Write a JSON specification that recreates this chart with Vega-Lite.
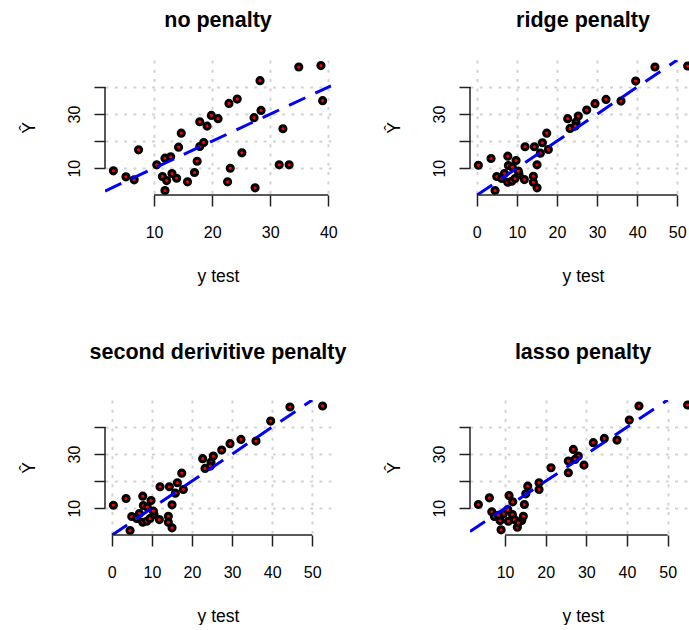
{
  "$schema": "https://vega.github.io/schema/vega-lite/v6.json",
  "padding": {"left": 20, "top": 10, "right": 0, "bottom": 0},
  "columns": 2,
  "spacing": {"row": 205, "column": 139},
  "bounds": "flush",
  "datasets": {
    "none": [
      {"x": 2.99, "y": 9.04}, {"x": 5.16, "y": 6.81}, {"x": 6.58, "y": 5.70}, {"x": 7.33, "y": 16.81},
      {"x": 10.46, "y": 11.26}, {"x": 11.88, "y": 13.70}, {"x": 12.86, "y": 14.22}, {"x": 11.44, "y": 6.93},
      {"x": 12.17, "y": 5.44}, {"x": 13.08, "y": 8.04}, {"x": 13.88, "y": 6.30}, {"x": 11.88, "y": 1.74},
      {"x": 14.22, "y": 17.78}, {"x": 14.68, "y": 22.96}, {"x": 15.76, "y": 4.96}, {"x": 16.96, "y": 8.41},
      {"x": 17.42, "y": 12.59}, {"x": 17.87, "y": 18.04}, {"x": 18.55, "y": 19.52}, {"x": 17.87, "y": 27.19},
      {"x": 19.13, "y": 25.56}, {"x": 19.87, "y": 29.52}, {"x": 21.02, "y": 28.30}, {"x": 22.90, "y": 33.96},
      {"x": 24.32, "y": 35.56}, {"x": 22.66, "y": 4.96}, {"x": 23.12, "y": 10.0}, {"x": 25.12, "y": 15.70},
      {"x": 27.40, "y": 2.74}, {"x": 27.22, "y": 28.67}, {"x": 28.42, "y": 31.37}, {"x": 28.25, "y": 42.37},
      {"x": 32.19, "y": 24.59}, {"x": 31.55, "y": 11.26}, {"x": 33.26, "y": 11.26}, {"x": 34.92, "y": 47.41},
      {"x": 38.74, "y": 47.93}, {"x": 39.03, "y": 34.96}
    ],
    "ridge": [
      {"x": 0.40, "y": 11.11}, {"x": 3.56, "y": 13.59}, {"x": 7.73, "y": 14.44}, {"x": 9.80, "y": 12.85},
      {"x": 7.88, "y": 11.0}, {"x": 8.88, "y": 10.37}, {"x": 4.98, "y": 6.93}, {"x": 6.89, "y": 8.04},
      {"x": 7.73, "y": 4.81}, {"x": 8.72, "y": 5.19}, {"x": 9.55, "y": 6.19}, {"x": 10.54, "y": 7.67},
      {"x": 11.87, "y": 5.81}, {"x": 14.11, "y": 7.04}, {"x": 14.11, "y": 4.81}, {"x": 15.03, "y": 2.74},
      {"x": 15.03, "y": 11.26}, {"x": 4.56, "y": 1.74}, {"x": 12.04, "y": 17.93}, {"x": 14.36, "y": 17.93},
      {"x": 16.36, "y": 19.41}, {"x": 15.86, "y": 15.56}, {"x": 17.85, "y": 16.93}, {"x": 17.45, "y": 22.96},
      {"x": 22.68, "y": 28.30}, {"x": 23.26, "y": 24.70}, {"x": 24.75, "y": 27.04}, {"x": 25.33, "y": 29.26},
      {"x": 24.58, "y": 25.56}, {"x": 27.42, "y": 31.48}, {"x": 29.49, "y": 33.85}, {"x": 32.23, "y": 35.44},
      {"x": 35.97, "y": 34.81}, {"x": 39.63, "y": 42.22}, {"x": 44.44, "y": 47.41}, {"x": 52.59, "y": 47.78},
      {"x": 6.23, "y": 6.19}, {"x": 10.38, "y": 8.9}
    ],
    "lasso": [
      {"x": 3.43, "y": 11.37}, {"x": 6.14, "y": 13.85}, {"x": 10.98, "y": 14.7}, {"x": 11.89, "y": 12.37},
      {"x": 14.75, "y": 11.37}, {"x": 6.73, "y": 8.67}, {"x": 7.37, "y": 6.93}, {"x": 8.77, "y": 5.44},
      {"x": 9.59, "y": 7.93}, {"x": 10.66, "y": 9.52}, {"x": 10.81, "y": 5.19}, {"x": 11.8, "y": 7.67},
      {"x": 12.29, "y": 5.81}, {"x": 14.1, "y": 5.44}, {"x": 14.5, "y": 7.04}, {"x": 9.02, "y": 2.0},
      {"x": 13.02, "y": 2.96}, {"x": 15.58, "y": 18.15}, {"x": 18.36, "y": 19.41}, {"x": 18.36, "y": 16.93},
      {"x": 15.1, "y": 15.33}, {"x": 21.31, "y": 24.96}, {"x": 25.57, "y": 23.1}, {"x": 25.57, "y": 27.41},
      {"x": 26.8, "y": 31.74}, {"x": 28.02, "y": 29.26}, {"x": 29.42, "y": 25.93}, {"x": 27.21, "y": 28.04},
      {"x": 31.71, "y": 34.22}, {"x": 34.42, "y": 35.81}, {"x": 37.54, "y": 35.19}, {"x": 40.57, "y": 42.59},
      {"x": 42.95, "y": 47.78}, {"x": 54.92, "y": 48.15}, {"x": 8.35, "y": 7.41}, {"x": 13.27, "y": 4.59}
    ]
  },
  "concat": [
    {
      "width": 226, "height": 135,
      "title": {"text": "no penalty", "offset": 28.5},
      "layer": [
        {"data": {"name": "none"},
         "mark": {"type": "point", "filled": true, "shape": "circle", "size": 38, "fill": "#ff0000", "stroke": "#000000", "strokeWidth": 3, "opacity": 1, "fillOpacity": 1, "strokeOpacity": 1, "clip": true},
         "encoding": {
           "x": {"field": "x", "type": "quantitative", "scale": {"domain": [1.55, 40.47], "nice": false, "zero": false}, "axis": {"title": "y test", "values": [10, 20, 30, 40], "labelBaseline": "alphabetic", "titleBaseline": "alphabetic"}},
           "y": {"field": "y", "type": "quantitative", "scale": {"domain": [0.1, 50], "nice": false, "zero": false}, "axis": {"title": "Ŷ", "values": [10, 20, 30, 40], "labelExpr": "datum.value == 10 || datum.value == 30 ? datum.label : ''", "labelAngle": -90, "labelAlign": "center", "labelBaseline": "alphabetic", "titleAngle": -90, "titleBaseline": "alphabetic", "titleX": -71}}
         }},
        {"data": {"values": [{"v": 1.55}, {"v": 40.47}]},
         "mark": {"type": "line", "color": "#0000ff", "strokeWidth": 3, "strokeDash": [18, 11], "clip": true},
         "encoding": {"x": {"field": "v", "type": "quantitative", "title": "y test"}, "y": {"field": "v", "type": "quantitative", "title": "Ŷ"}}},
        {"data": {"values": [{}]},
         "mark": {"type": "rule", "color": "#222222", "strokeWidth": 1.5},
         "encoding": {"x": {"datum": 10, "type": "quantitative"}, "x2": {"datum": 40}, "y": {"datum": 0.1, "type": "quantitative"}}},
        {"data": {"values": [{}]},
         "mark": {"type": "rule", "color": "#222222", "strokeWidth": 1.5},
         "encoding": {"y": {"datum": 10, "type": "quantitative"}, "y2": {"datum": 40}, "x": {"datum": 1.55, "type": "quantitative"}}}
      ]
    },
    {
      "width": 219, "height": 135,
      "title": {"text": "ridge penalty", "offset": 28.5, "dx": 3.5},
      "layer": [
        {"data": {"name": "ridge"},
         "mark": {"type": "point", "filled": true, "shape": "circle", "size": 38, "fill": "#ff0000", "stroke": "#000000", "strokeWidth": 3, "opacity": 1, "fillOpacity": 1, "strokeOpacity": 1, "clip": true},
         "encoding": {
           "x": {"field": "x", "type": "quantitative", "scale": {"domain": [-1.69, 52.93], "nice": false, "zero": false}, "axis": {"title": "y test", "values": [0, 10, 20, 30, 40, 50], "titleX": 113, "labelBaseline": "alphabetic", "titleBaseline": "alphabetic"}},
           "y": {"field": "y", "type": "quantitative", "scale": {"domain": [0.1, 50], "nice": false, "zero": false}, "axis": {"title": "Ŷ", "values": [10, 20, 30, 40], "labelExpr": "datum.value == 10 || datum.value == 30 ? datum.label : ''", "labelAngle": -90, "labelAlign": "center", "labelBaseline": "alphabetic", "titleAngle": -90, "titleBaseline": "alphabetic", "titleX": -71}}
         }},
        {"data": {"values": [{"v": 0.1}, {"v": 50}]},
         "mark": {"type": "line", "color": "#0000ff", "strokeWidth": 3, "strokeDash": [18, 11], "clip": true},
         "encoding": {"x": {"field": "v", "type": "quantitative", "title": "y test"}, "y": {"field": "v", "type": "quantitative", "title": "Ŷ"}}},
        {"data": {"values": [{}]},
         "mark": {"type": "rule", "color": "#222222", "strokeWidth": 1.5},
         "encoding": {"x": {"datum": 0, "type": "quantitative"}, "x2": {"datum": 50}, "y": {"datum": 0.1, "type": "quantitative"}}},
        {"data": {"values": [{}]},
         "mark": {"type": "rule", "color": "#222222", "strokeWidth": 1.5},
         "encoding": {"y": {"datum": 10, "type": "quantitative"}, "y2": {"datum": 40}, "x": {"datum": -1.69, "type": "quantitative"}}}
      ]
    },
    {
      "width": 226, "height": 135,
      "title": {"text": "second derivitive penalty", "offset": 37},
      "layer": [
        {"data": {"name": "ridge"},
         "mark": {"type": "point", "filled": true, "shape": "circle", "size": 38, "fill": "#ff0000", "stroke": "#000000", "strokeWidth": 3, "opacity": 1, "fillOpacity": 1, "strokeOpacity": 1, "clip": true},
         "encoding": {
           "x": {"field": "x", "type": "quantitative", "scale": {"domain": [-1.69, 54.68], "nice": false, "zero": false}, "axis": {"title": "y test", "values": [0, 10, 20, 30, 40, 50], "labelBaseline": "alphabetic", "titleBaseline": "alphabetic"}},
           "y": {"field": "y", "type": "quantitative", "scale": {"domain": [0.1, 50], "nice": false, "zero": false}, "axis": {"title": "Ŷ", "values": [10, 20, 30, 40], "labelExpr": "datum.value == 10 || datum.value == 30 ? datum.label : ''", "labelAngle": -90, "labelAlign": "center", "labelBaseline": "alphabetic", "titleAngle": -90, "titleBaseline": "alphabetic", "titleX": -71}}
         }},
        {"data": {"values": [{"v": 0.1}, {"v": 50}]},
         "mark": {"type": "line", "color": "#0000ff", "strokeWidth": 3, "strokeDash": [18, 11], "clip": true},
         "encoding": {"x": {"field": "v", "type": "quantitative", "title": "y test"}, "y": {"field": "v", "type": "quantitative", "title": "Ŷ"}}},
        {"data": {"values": [{}]},
         "mark": {"type": "rule", "color": "#222222", "strokeWidth": 1.5},
         "encoding": {"x": {"datum": 0, "type": "quantitative"}, "x2": {"datum": 50}, "y": {"datum": 0.1, "type": "quantitative"}}},
        {"data": {"values": [{}]},
         "mark": {"type": "rule", "color": "#222222", "strokeWidth": 1.5},
         "encoding": {"y": {"datum": 10, "type": "quantitative"}, "y2": {"datum": 40}, "x": {"datum": -1.69, "type": "quantitative"}}}
      ]
    },
    {
      "width": 219, "height": 135,
      "title": {"text": "lasso penalty", "offset": 37, "dx": 3.5},
      "layer": [
        {"data": {"name": "lasso"},
         "mark": {"type": "point", "filled": true, "shape": "circle", "size": 38, "fill": "#ff0000", "stroke": "#000000", "strokeWidth": 3, "opacity": 1, "fillOpacity": 1, "strokeOpacity": 1, "clip": true},
         "encoding": {
           "x": {"field": "x", "type": "quantitative", "scale": {"domain": [1.37, 55.26], "nice": false, "zero": false}, "axis": {"title": "y test", "values": [10, 20, 30, 40, 50], "titleX": 113, "labelBaseline": "alphabetic", "titleBaseline": "alphabetic"}},
           "y": {"field": "y", "type": "quantitative", "scale": {"domain": [0.1, 50], "nice": false, "zero": false}, "axis": {"title": "Ŷ", "values": [10, 20, 30, 40], "labelExpr": "datum.value == 10 || datum.value == 30 ? datum.label : ''", "labelAngle": -90, "labelAlign": "center", "labelBaseline": "alphabetic", "titleAngle": -90, "titleBaseline": "alphabetic", "titleX": -71}}
         }},
        {"data": {"values": [{"v": 1.37}, {"v": 50}]},
         "mark": {"type": "line", "color": "#0000ff", "strokeWidth": 3, "strokeDash": [18, 11], "clip": true},
         "encoding": {"x": {"field": "v", "type": "quantitative", "title": "y test"}, "y": {"field": "v", "type": "quantitative", "title": "Ŷ"}}},
        {"data": {"values": [{}]},
         "mark": {"type": "rule", "color": "#222222", "strokeWidth": 1.5},
         "encoding": {"x": {"datum": 10, "type": "quantitative"}, "x2": {"datum": 50}, "y": {"datum": 0.1, "type": "quantitative"}}},
        {"data": {"values": [{}]},
         "mark": {"type": "rule", "color": "#222222", "strokeWidth": 1.5},
         "encoding": {"y": {"datum": 10, "type": "quantitative"}, "y2": {"datum": 40}, "x": {"datum": 1.37, "type": "quantitative"}}}
      ]
    }
  ],
  "config": {
    "view": {"stroke": null},
    "font": "Liberation Sans",
    "axis": {
      "domain": false, "grid": true, "gridColor": "#d3d3d3", "gridDash": [3, 6.3], "gridWidth": 2,
      "tickColor": "#222222", "tickWidth": 1.5, "tickSize": 11,
      "labelFont": "Liberation Sans", "labelFontSize": 16, "labelColor": "#000000",
      "titleFont": "Liberation Sans", "titleFontSize": 17.5, "titleFontWeight": "normal", "titleColor": "#000000",
      "labelOverlap": false, "labelBound": false, "labelFlush": false
    },
    "axisX": {"labelAngle": 0, "labelPadding": 31, "titleY": 86},
    "axisY": {"labelPadding": 15},
    "title": {"font": "Liberation Sans", "fontSize": 21.5, "fontWeight": "bold", "color": "#000000", "baseline": "alphabetic", "anchor": "middle"}
  }
}
